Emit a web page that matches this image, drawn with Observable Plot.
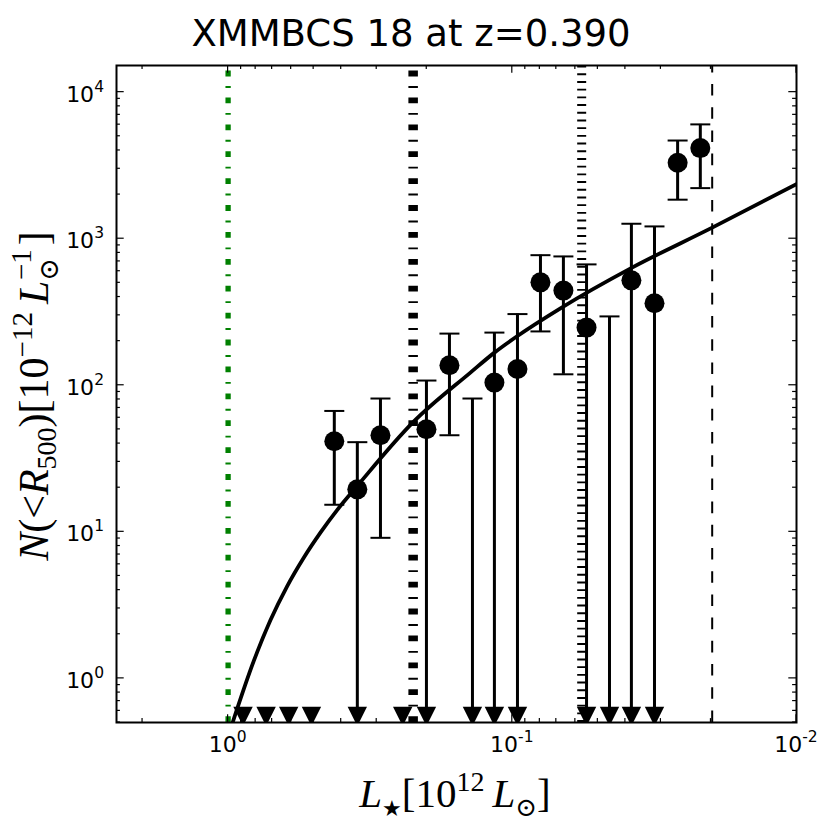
<!DOCTYPE html>
<html><head><meta charset="utf-8">
<script src="https://cdn.jsdelivr.net/npm/d3@7"></script>
<script src="https://cdn.jsdelivr.net/npm/@observablehq/plot@0.6"></script>
<style>
html,body{margin:0;padding:0;background:#fff;}
#chart svg{display:block;}
</style></head><body><div id="chart"></div>
<script>
// ---- text ----
const titleText = "XMMBCS 18 at z=0.390";

// ---- axis domains / ticks ----
const xDomain = [2.47, 0.01];
const yDomain = [0.5, 15200];
const xTickMajor = [1, 0.1, 0.01];
const xTickExp = ["0", "-1", "-2"];
const xTickMinor = [2, 0.9, 0.8, 0.7, 0.6, 0.5, 0.4, 0.3, 0.2, 0.09, 0.08, 0.07, 0.06, 0.05, 0.04, 0.03, 0.02];
const yTickMajor = [1, 10, 100, 1000, 10000];
const yTickExp = ["0", "1", "2", "3", "4"];
const yTickMinor = [0.5, 0.6, 0.7, 0.8, 0.9, 2, 3, 4, 5, 6, 7, 8, 9, 20, 30, 40, 50, 60, 70, 80, 90,
  200, 300, 400, 500, 600, 700, 800, 900, 2000, 3000, 4000, 5000, 6000, 7000, 8000, 9000];

// ---- binned data (luminosity bins) ----
const binLum = [0.886, 0.735, 0.612, 0.509, 0.423, 0.351, 0.291, 0.243, 0.2005, 0.1664, 0.1381,
  0.1156, 0.0959, 0.0796, 0.0661, 0.0548, 0.0455, 0.0381, 0.0316, 0.0262, 0.0218];
const binN  = [null, null, null, null, 41.5, 19.5, 45.6, null, 50.1, 136.9, null,
  104.3, 129.2, 503.9, 442.6, 247.4, null, 520, 362.5, 3298, 4151];
const binHi = [null, null, null, null, 66.8, 40.9, 81.2, null, 107.7, 225.2, 81.2,
  228.8, 306, 772, 757, 668, 295, 1265, 1213, 4677, 6026];
const binLo = [null, null, null, null, 15.3, null, 9.1, null, null, 45.6, null,
  null, null, 233, 118.8, null, null, null, null, 1846, 2214];
const limitY = 0.55; // where upper-limit triangles sit

// ---- fitted curve ----
const fitLum = [0.964, 0.8127, 0.7099, 0.6200, 0.5418, 0.4733, 0.4135, 0.3516, 0.2233, 0.1404, 0.1156, 0.0962, 0.0677, 0.0379, 0.0198, 0.00994];
const fitN   = [0.5, 1.31, 2.49, 4.25, 6.66, 9.88, 14.07, 20.5, 56, 122, 167, 216, 335, 635, 1190, 2370];

// ---- vertical reference lines ----
const vGreen = [1.0];
const vDashDot = [0.2233];
const vDotted = [0.057];
const vDashed = [0.0198];

// ---- build tables ----
const fit = fitLum.map((L, i) => ({L, N: fitN[i]}));
const bins = binLum.map((L, i) => ({L, N: binN[i], hi: binHi[i], lo: binLo[i]}));
const errRows = bins.filter(d => d.hi != null).map(d => ({L: d.L, y1: d.lo != null ? d.lo : limitY, y2: d.hi}));
const capRows = [];
bins.forEach(d => { if (d.hi != null) capRows.push({L: d.L, v: d.hi}); if (d.lo != null) capRows.push({L: d.L, v: d.lo}); });
const dotRows = bins.filter(d => d.N != null);
const triRows = bins.filter(d => d.lo == null);

// custom symbols
const downTriangle = {draw(ctx, size) { const a = Math.sqrt(size / Math.PI); ctx.moveTo(-a, -a); ctx.lineTo(a, -a); ctx.lineTo(0, a); ctx.closePath(); }};
const capLine = {draw(ctx, size) { const a = Math.sqrt(size / Math.PI); ctx.moveTo(-a, 0); ctx.lineTo(a, 0); }};

const plot = Plot.plot({
  width: 830, height: 830,
  marginTop: 65, marginBottom: 108, marginLeft: 116, marginRight: 34,
  x: {type: "log", domain: xDomain, axis: null},
  y: {type: "log", domain: yDomain, axis: null},
  style: {background: "white", fontFamily: "DejaVu Sans", overflow: "visible"},
  marks: [
    Plot.ruleX(vGreen, {x: d => d, y1: yDomain[0], y2: yDomain[1], stroke: "#008000", strokeWidth: 5.3, strokeDasharray: "5.8,9.6,1.9,9.6"}),
    Plot.ruleX(vDashDot, {x: d => d, y1: yDomain[0], y2: yDomain[1], stroke: "black", strokeWidth: 9.5, strokeDasharray: "5.8,9.6,1.9,9.6"}),
    Plot.ruleX(vDotted, {x: d => d, y1: yDomain[0], y2: yDomain[1], stroke: "black", strokeWidth: 9, strokeDasharray: "1.9,5.8"}),
    Plot.ruleX(vDashed, {x: d => d, y1: yDomain[0], y2: yDomain[1], stroke: "black", strokeWidth: 2, strokeDasharray: "11.6,11.6"}),
    Plot.line(fit, {x: "L", y: "N", curve: "monotone-x", stroke: "black", strokeWidth: 3.8, clip: "frame"}),
    Plot.ruleX(errRows, {x: "L", y1: "y1", y2: "y2", stroke: "black", strokeWidth: 3}),
    Plot.dot(capRows, {x: "L", y: "v", symbol: capLine, r: 10, stroke: "black", fill: "none", strokeWidth: 2}),
    Plot.dot(triRows, {x: "L", y: () => limitY, symbol: downTriangle, r: 9.7, fill: "black", stroke: "none", clip: "frame"}),
    Plot.dot(dotRows, {x: "L", y: "N", r: 10, fill: "black", stroke: "none"}),
    Plot.frame({stroke: "black", strokeWidth: 2})
  ]
});

// ---- ticks and labels through the plot's scales ----
const sx = plot.scale("x"), sy = plot.scale("y");
const X = v => sx.apply(v), Y = v => sy.apply(v);
const xl = X(xDomain[0]), xr = X(xDomain[1]);
const yb = Y(yDomain[0]), yt = Y(yDomain[1]);
const svg = d3.select(plot);
const tg = svg.append("g").attr("stroke", "black").attr("stroke-width", 1.2);
const majorLen = 7.7, minorLen = 3.9;
function xt(v, len) {
  const p = X(v);
  tg.append("line").attr("x1", p).attr("x2", p).attr("y1", yb).attr("y2", yb - len);
  tg.append("line").attr("x1", p).attr("x2", p).attr("y1", yt).attr("y2", yt + len);
}
function yt_(v, len) {
  const p = Y(v);
  tg.append("line").attr("y1", p).attr("y2", p).attr("x1", xl).attr("x2", xl + len);
  tg.append("line").attr("y1", p).attr("y2", p).attr("x1", xr).attr("x2", xr - len);
}
xTickMajor.forEach(v => xt(v, majorLen));
xTickMinor.forEach(v => xt(v, minorLen));
yTickMajor.forEach(v => yt_(v, majorLen));
yTickMinor.forEach(v => yt_(v, minorLen));

const lg = svg.append("g").attr("font-family", "DejaVu Sans").attr("fill", "black");
xTickMajor.forEach((v, i) => {
  const t = lg.append("text").attr("x", X(v)).attr("y", 752).attr("text-anchor", "middle").attr("font-size", 22);
  t.append("tspan").text("10");
  t.append("tspan").attr("dy", -10).attr("font-size", 15.5).text(xTickExp[i]);
});
yTickMajor.forEach((v, i) => {
  const t = lg.append("text").attr("x", 104).attr("y", Y(v) + 10).attr("text-anchor", "end").attr("font-size", 22);
  t.append("tspan").text("10");
  t.append("tspan").attr("dy", -10).attr("font-size", 15.5).text(yTickExp[i]);
});

// title
svg.append("text").attr("x", 411).attr("y", 46).attr("text-anchor", "middle")
  .attr("font-family", "DejaVu Sans").attr("font-size", 37).attr("fill", "black").text(titleText);

// x label
const xlab = svg.append("text").attr("x", 455).attr("y", 807).attr("text-anchor", "middle")
  .attr("font-family", "Liberation Serif").attr("font-size", 41).attr("fill", "black");
xlab.append("tspan").attr("font-style", "italic").text("L");
xlab.append("tspan").attr("font-size", 22).attr("dy", 9).attr("font-family", "DejaVu Sans").text("★");
xlab.append("tspan").attr("dy", -9).text("[10");
xlab.append("tspan").attr("font-size", 28).attr("dy", -16).text("12");
xlab.append("tspan").attr("dy", 16).attr("dx", 8).attr("font-style", "italic").text("L");
xlab.append("tspan").attr("font-size", 26).attr("dy", 9).attr("font-family", "DejaVu Serif").text("⊙");
xlab.append("tspan").attr("dy", -9).text("]");

// y label
const ylab = svg.append("text").attr("transform", "translate(48,396) rotate(-90)").attr("text-anchor", "middle")
  .attr("font-family", "Liberation Serif").attr("font-size", 42).attr("fill", "black");
ylab.append("tspan").attr("font-style", "italic").text("N");
ylab.append("tspan").text("(<");
ylab.append("tspan").attr("font-style", "italic").text("R");
ylab.append("tspan").attr("font-size", 28).attr("dy", 8).text("500");
ylab.append("tspan").attr("dy", -8).text(")[10");
ylab.append("tspan").attr("font-size", 29).attr("dy", -16).text("\u221212");
ylab.append("tspan").attr("dy", 16).attr("dx", 8).attr("font-style", "italic").text("L");
ylab.append("tspan").attr("font-size", 27).attr("dy", 10).attr("font-family", "DejaVu Serif").text("⊙");
ylab.append("tspan").attr("font-size", 29).attr("dx", -22).attr("dy", -27).text("\u22121");
ylab.append("tspan").attr("dy", 17).attr("dx", 4).text("]");

document.getElementById("chart").appendChild(plot);
</script>
</body></html>
